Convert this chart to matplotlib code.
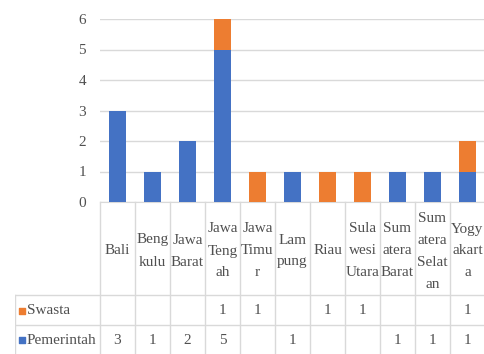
import matplotlib
matplotlib.use("Agg")
import matplotlib.pyplot as plt

categories = ["Bali", "Beng\nkulu", "Jawa\nBarat", "Jawa\nTeng\nah", "Jawa\nTimu\nr",
              "Lam\npung", "Riau", "Sula\nwesi\nUtara", "Sum\natera\nBarat",
              "Sum\natera\nSelat\nan", "Yogy\nakart\na"]
pemerintah = [3, 1, 2, 5, 0, 1, 0, 0, 1, 1, 1]
swasta = [0, 0, 0, 1, 1, 0, 1, 1, 0, 0, 1]
series_names = ["Swasta", "Pemerintah"]
yticks = [0, 1, 2, 3, 4, 5, 6]

BLUE = "#4472C4"
ORANGE = "#ED7D31"
GRID = "#D9D9D9"
TXT = "#505050"
FONT = "Liberation Serif"
FS = 11

W, H = 485, 354
fig = plt.figure(figsize=(W / 100, H / 100), dpi=100)
fig.patch.set_facecolor("white")

# plot area in pixel coords
px0, px1 = 100, 485
py_top, py_bot = 19, 202
ax = fig.add_axes([px0 / W, 1 - py_bot / H, (px1 - px0) / W, (py_bot - py_top) / H])
n = len(categories)
x = list(range(n))
ax.bar(x, pemerintah, width=0.5, color=BLUE, zorder=3)
ax.bar(x, swasta, width=0.5, bottom=pemerintah, color=ORANGE, zorder=3)
ax.set_xlim(-0.5, n - 0.5)
ax.set_ylim(0, 6)
ax.set_yticks(yticks)
ax.set_yticklabels([str(t) for t in yticks], fontfamily=FONT, fontsize=FS, color=TXT)
ax.tick_params(axis="y", length=0, pad=10)
ax.set_xticks([])
ax.grid(axis="y", color=GRID, linewidth=1, zorder=0)
for s in ["top", "right", "left"]:
    ax.spines[s].set_visible(False)
ax.spines["bottom"].set_color(GRID)

# data table axes (x in category units, y in pixels)
tx0 = 15
unit = (px1 - px0) / n
tax = fig.add_axes([tx0 / W, 0, (px1 - tx0) / W, 1 - py_bot / H])
tax.set_xlim(-0.5 - (px0 - tx0) / unit, n - 0.5)
tax.set_ylim(H, py_bot)
tax.axis("off")

row1, row2 = 295, 325
for k in range(n + 1):
    tax.plot([k - 0.5, k - 0.5], [py_bot, H], color=GRID, lw=1, clip_on=False)
xl = -0.5 - (px0 - tx0) / unit
tax.plot([xl, xl], [row1, H], color=GRID, lw=1)
for yy in [row1, row2]:
    tax.plot([xl, n - 0.5], [yy, yy], color=GRID, lw=1)

for i, c in enumerate(categories):
    tax.text(i, 251, c, ha="center", va="center", fontfamily=FONT, fontsize=FS,
             color=TXT, linespacing=1.9)

rows = [(swasta, ORANGE, 311), (pemerintah, BLUE, 340)]
for (vals, col, yc), name in zip(rows, series_names):
    tax.scatter([xl + 0.21], [yc], marker="s", s=22, color=col, clip_on=False)
    tax.text(xl + 0.34, yc, name, ha="left", va="center", fontfamily=FONT,
             fontsize=FS, color=TXT)
    for i, v in enumerate(vals):
        if v:
            tax.text(i, yc, str(v), ha="center", va="center", fontfamily=FONT,
                     fontsize=FS, color=TXT)

fig.savefig("out.png", dpi=100, facecolor="white")
